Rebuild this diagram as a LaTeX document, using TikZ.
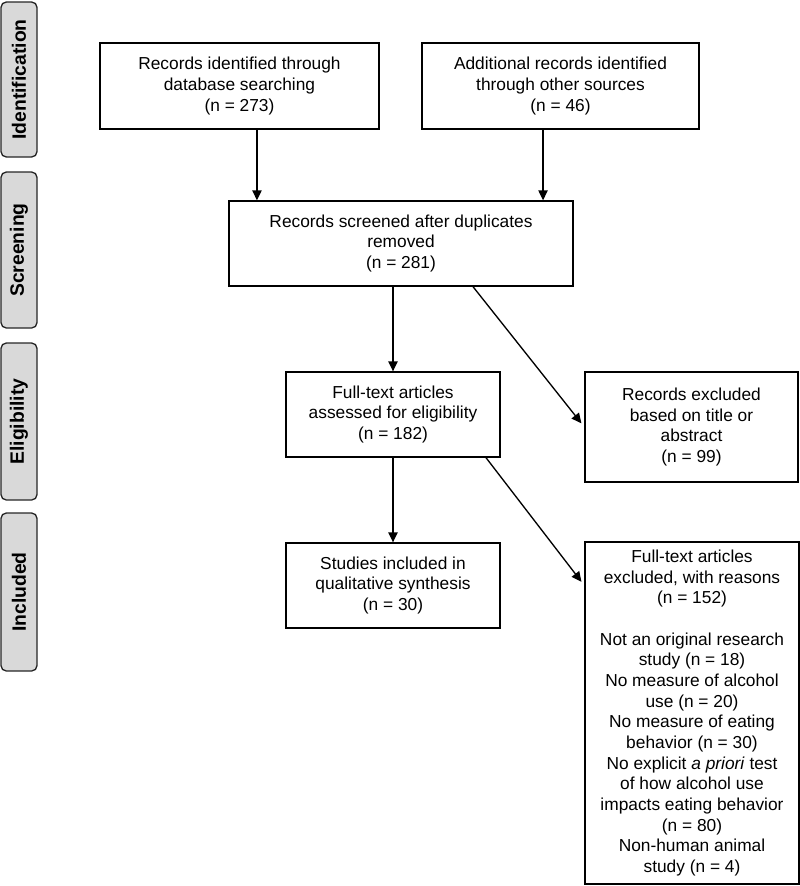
\documentclass[tikz,border=0pt]{standalone}
\usepackage{fontspec}
\setmainfont{Liberation Sans}
\usetikzlibrary{arrows.meta}

\begin{document}
\begin{tikzpicture}[x=0.75pt,y=-0.75pt,
  box/.style={draw=black,line width=1pt,align=center,inner sep=0pt,font=\fontsize{13}{15.5}\selectfont},
  phase/.style={draw=black!85,fill=black!15,rounded corners=4pt,line width=1pt,rotate=90,minimum height=27pt,font=\fontsize{14.5}{16}\bfseries\selectfont},
  arr/.style={-{Triangle[width=7pt,length=7.5pt]},line width=1pt}]
\useasboundingbox (0,0) rectangle (800,886);
\node [phase,minimum width=116.25pt] (ident) at (19,79.5) {Identification};
\node [phase,minimum width=117pt] (screen) at (19,250) {Screening};
\node [phase,minimum width=117.75pt] (elig) at (19,421.5) {Eligibility};
\node [phase,minimum width=118.5pt] (inclph) at (19,592) {Included};
\node [box,minimum width=209.25pt,minimum height=64.5pt] (db) at (239.5,86) {Records identified through\\database searching\\(n = 273)};
\node [box,minimum width=207.75pt,minimum height=64.5pt] (other) at (560.5,86) {Additional records identified\\through other sources\\(n = 46)};
\node [box,minimum width=258pt,minimum height=63.75pt] (scr) at (401,243.5) {Records screened after duplicates\\removed\\(n = 281)};
\node [box,minimum width=160.5pt,minimum height=63.75pt] (full) at (393,414.5) {Full-text articles\\assessed for eligibility\\(n = 182)};
\node [box,minimum width=159.75pt,minimum height=82.5pt] (excl) at (691.5,427) {Records excluded\\based on title or\\abstract\\(n = 99)};
\node [box,minimum width=160.5pt,minimum height=63.75pt] (incl) at (393,585.5) {Studies included in\\qualitative synthesis\\(n = 30)};
\node [box,minimum width=160.5pt,minimum height=256.5pt] (reasons) at (692,713) {Full-text articles\\excluded, with reasons\\(n = 152)\\ ~\\Not an original research\\study (n = 18)\\No measure of alcohol\\use (n = 20)\\No measure of eating\\behavior (n = 30)\\No explicit \textit{a priori} test\\of how alcohol use\\impacts eating behavior\\(n = 80)\\Non-human animal\\study (n = 4)};
\coordinate (dbout) at ([xshift=13.1pt]db.south);
\coordinate (otherout) at ([xshift=-13.1pt]other.south);
\coordinate (scrout) at ([xshift=54pt]scr.south);
\coordinate (fullout) at ([xshift=69.75pt]full.south);
\draw [arr] (dbout) -- (dbout |- scr.north);
\draw [arr] (otherout) -- (otherout |- scr.north);
\draw [arr] (full.north |- scr.south) -- (full.north);
\draw [arr,shorten >=3.5pt] (scrout) -- (excl.west);
\draw [arr] (full.south) -- (incl.north);
\draw [arr,shorten >=3.5pt] (fullout) -- (reasons.west |- incl.center);
\end{tikzpicture}
\end{document}
